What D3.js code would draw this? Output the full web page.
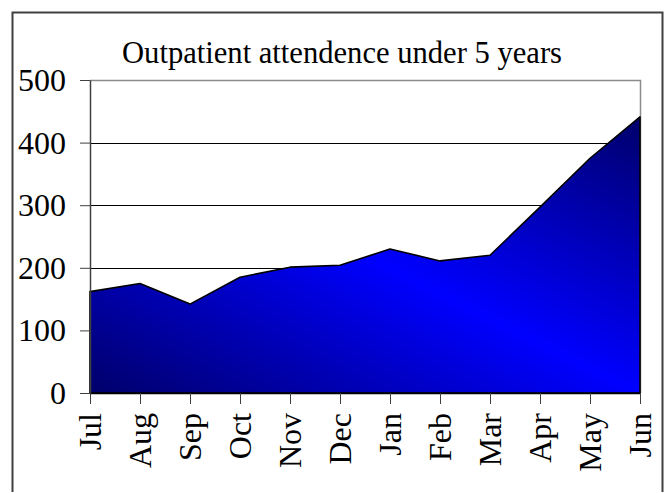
<!DOCTYPE html>
<html>
<head>
<meta charset="utf-8">
<script src="https://cdn.jsdelivr.net/npm/d3@7"></script>
<style>
  body { margin: 0; background: #fff; }
  svg { display: block; }
  .lbl { font-family: "Liberation Serif", "Times New Roman", serif; fill: #000; }
</style>
</head>
<body>
<div id="chart"></div>
<script>
// data
var months = ["Jul","Aug","Sep","Oct","Nov","Dec","Jan","Feb","Mar","Apr","May","Jun"];
var attendance = [162, 175, 142, 185, 201, 204, 230, 211, 220, 297, 375, 441];
var yTicks = [0, 100, 200, 300, 400, 500];
var titleText = "Outpatient attendence under 5 years";

var width = 669, height = 493;
var plotLeft = 90, plotRight = 640, plotTop = 80, plotBottom = 393;
var serif = "'Liberation Serif', 'Times New Roman', serif";

var svg = d3.select("#chart").append("svg")
  .attr("width", width)
  .attr("height", height);

// outer chart frame (bottom edge falls off the picture)
svg.append("path")
  .attr("d", "M12.5,492 V12.5 H662.5 V492")
  .attr("fill", "none")
  .attr("stroke", "#404040")
  .attr("stroke-width", 2);

var x = d3.scalePoint().domain(months).range([plotLeft, plotRight]);
var y = d3.scaleLinear().domain([0, 500]).range([plotBottom, plotTop]);

// gradient: dark at bottom-left and top-right, bright through the middle
var grad = svg.append("defs").append("linearGradient")
  .attr("id", "blueFill")
  .attr("x1", 0).attr("y1", 1)
  .attr("x2", 1).attr("y2", 0);
grad.append("stop").attr("offset", "0%").attr("stop-color", "#00006a");
grad.append("stop").attr("offset", "50%").attr("stop-color", "#0000ff");
grad.append("stop").attr("offset", "100%").attr("stop-color", "#00006a");

// gridlines
svg.append("g").selectAll("line")
  .data(yTicks.filter(function(d){ return d > 0 && d < 500; }))
  .enter().append("line")
  .attr("x1", plotLeft).attr("x2", plotRight)
  .attr("y1", function(d){ return Math.round(y(d)) + 0.5; })
  .attr("y2", function(d){ return Math.round(y(d)) + 0.5; })
  .attr("stroke", "#000")
  .attr("stroke-width", 1);

// plot frame top + right (gray)
svg.append("path")
  .attr("d", "M" + plotLeft + "," + (plotTop + 0.5) + " H" + (plotRight + 0.5) + " V" + plotBottom)
  .attr("fill", "none")
  .attr("stroke", "#8c8c8c")
  .attr("stroke-width", 1.5);

var area = d3.area()
  .x(function(d, i){ return x(months[i]); })
  .y0(y(0))
  .y1(function(d){ return y(d); });

svg.append("path")
  .datum(attendance)
  .attr("d", area)
  .attr("fill", "url(#blueFill)")
  .attr("stroke", "#000")
  .attr("stroke-width", 1.6)
  .attr("stroke-linejoin", "round");

// y axis
var yAxis = svg.append("g")
  .attr("transform", "translate(" + plotLeft + ",0)")
  .call(d3.axisLeft(y).tickValues(yTicks).tickSize(10).tickSizeOuter(0).tickPadding(14))
  .attr("font-family", serif)
  .attr("font-size", 32);
yAxis.select(".domain").attr("stroke", "#404040").attr("stroke-width", 1.5);
yAxis.selectAll(".tick line").attr("stroke", "#404040");
yAxis.selectAll("text")
  .attr("class", "lbl")
  .attr("dy", "0.33em");

// x axis
var xAxis = svg.append("g")
  .attr("transform", "translate(0," + plotBottom + ")")
  .call(d3.axisBottom(x).tickSize(11).tickSizeOuter(0))
  .attr("font-family", serif)
  .attr("font-size", 32);
xAxis.select(".domain").attr("stroke", "#000").attr("stroke-width", 1.5);
xAxis.selectAll(".tick line").attr("stroke", "#404040");
xAxis.selectAll("text")
  .attr("class", "lbl")
  .attr("transform", "rotate(-90)")
  .attr("text-anchor", "end")
  .attr("x", -20)
  .attr("y", 0)
  .attr("dy", 10);

// title
svg.append("text")
  .attr("class", "lbl")
  .attr("x", 342)
  .attr("y", 62.5)
  .attr("text-anchor", "middle")
  .attr("font-size", 31)
  .attr("textLength", 440)
  .attr("lengthAdjust", "spacingAndGlyphs")
  .text(titleText);
</script>
</body>
</html>
